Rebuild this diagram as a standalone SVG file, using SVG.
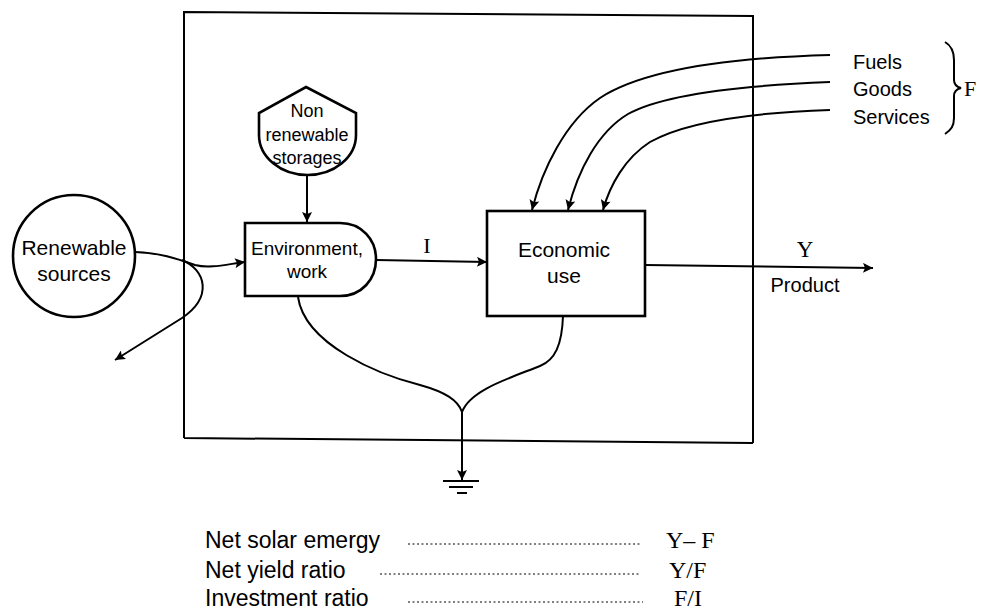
<svg xmlns="http://www.w3.org/2000/svg" width="983" height="610" viewBox="0 0 983 610">
<defs>
<marker id="ah" viewBox="0 0 10 10" refX="10" refY="5" markerWidth="14" markerHeight="10" markerUnits="userSpaceOnUse" orient="auto">
<path d="M0,0 L10,5 L0,10 L2,5 Z" fill="#000"/>
</marker>
<style>
.ln{fill:none;stroke:#000;stroke-width:2}
.nd{fill:#fff;stroke:#000;stroke-width:2.6}
.s{font-family:"Liberation Sans",Arial,sans-serif;fill:#000}
.r{font-family:"Liberation Serif","Times New Roman",serif;fill:#000}
.dot{fill:none;stroke:#000;stroke-width:1;stroke-dasharray:2 2.5}
</style>
</defs>
<rect width="983" height="610" fill="#fff"/>
<g id="boundary">
<path class="ln" d="M184,438 L184,12 L753,16 L753,443 M184,438 L753,443"/>
</g>
<g id="connectors">
<path class="ln" d="M135,252 C160,253 175,258 195,265 C210,269 228,264 245,262" marker-end="url(#ah)"/>
<path class="ln" d="M182,260 C206,270 213,297 182,318 L115,360" marker-end="url(#ah)"/>
<path class="ln" d="M307,176 V222" marker-end="url(#ah)"/>
<path class="ln" d="M376,260 L487,262" marker-end="url(#ah)"/>
<path class="ln" d="M645,265 L873,268" marker-end="url(#ah)"/>
<path class="ln" d="M830,55 C720,58 640,72 600,98 C565,122 542,170 532,210" marker-end="url(#ah)"/>
<path class="ln" d="M830,82 C730,86 660,96 628,114 C598,132 578,170 568,210" marker-end="url(#ah)"/>
<path class="ln" d="M830,110 C740,113 680,125 650,142 C625,158 610,185 603,210" marker-end="url(#ah)"/>
<path class="ln" d="M298,297 C305,345 380,375 420,385 C445,392 458,400 462,412"/>
<path class="ln" d="M563,316 C562,345 555,360 540,366 C510,378 470,390 462,412"/>
<path class="ln" d="M462,412 V480" marker-end="url(#ah)"/>
<path class="ln" d="M443,481 H479 M449,487 H473 M457,493 H467"/>
<path class="ln" d="M945,42 C952,46 954,52 954,60 L954,80 C954,85 957,87 961,88 C957,89 954,91 954,96 L954,118 C954,126 951,130 945,134" stroke-width="1.6"/>
</g>
<g id="renewable">
<circle class="nd" cx="74" cy="256" r="61"/>
<text class="s" x="74" y="255" font-size="21" text-anchor="middle">Renewable</text>
<text class="s" x="74" y="281" font-size="21" text-anchor="middle">sources</text>
</g>
<g id="storages">
<path class="nd" d="M306,87 L356,113 L356,135 A48.5,40 0 0 1 259,135 L259,113 Z"/>
<text class="s" x="307" y="117" font-size="18" text-anchor="middle">Non</text>
<text class="s" x="307" y="141" font-size="18" text-anchor="middle">renewable</text>
<text class="s" x="307" y="164" font-size="18" text-anchor="middle">storages</text>
</g>
<g id="environment">
<path class="nd" d="M245,223 H340 C362,223 376,240 376,259 C376,279 362,296 340,296 H245 Z"/>
<text class="s" x="307" y="255" font-size="19" text-anchor="middle">Environment,</text>
<text class="s" x="307" y="278" font-size="19" text-anchor="middle">work</text>
</g>
<g id="economic">
<rect class="nd" x="487" y="211" width="158" height="105"/>
<text class="s" x="564" y="257" font-size="21" text-anchor="middle">Economic</text>
<text class="s" x="564" y="283" font-size="21" text-anchor="middle">use</text>
</g>
<g id="labels">
<text class="r" x="427" y="253" font-size="22" text-anchor="middle">I</text>
<text class="r" x="805" y="257" font-size="23" text-anchor="middle">Y</text>
<text class="s" x="805" y="292" font-size="20" text-anchor="middle">Product</text>
<text class="s" x="853" y="69" font-size="20">Fuels</text>
<text class="s" x="853" y="96" font-size="20">Goods</text>
<text class="s" x="853" y="124" font-size="20">Services</text>
<text class="r" x="964" y="96" font-size="22">F</text>
</g>
<g id="indices">
<text class="s" x="205" y="548" font-size="23">Net solar emergy</text>
<text class="s" x="205" y="578" font-size="23">Net yield ratio</text>
<text class="s" x="205" y="606" font-size="23">Investment ratio</text>
<path class="dot" d="M408,544 H641 M380,574 H640 M408,602 H643"/>
<text class="r" x="666" y="548" font-size="24">Y– F</text>
<text class="r" x="669" y="578" font-size="24">Y/F</text>
<text class="r" x="674" y="606" font-size="24">F/I</text>
</g>
</svg>
